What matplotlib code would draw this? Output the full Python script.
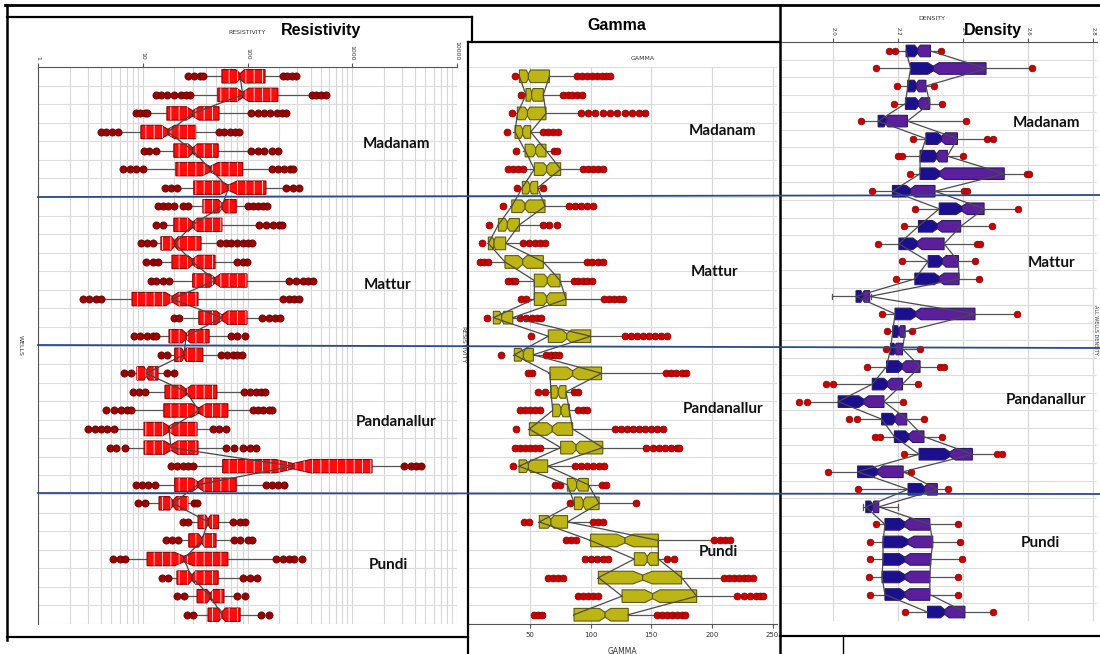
import numpy as np
import matplotlib
matplotlib.use('Agg')
import matplotlib.pyplot as plt
from matplotlib.patches import Polygon
from matplotlib.lines import Line2D

W, H = 1100, 654

# ---------------- data ----------------
wells = ['Madanam', 'Mattur', 'Pandanallur', 'Pundi']

# Resistivity, 30 rows, top to bottom
res_wl = [40, 29.5, 11.2, 6.1, 14, 10.5, 21.7, 28.5, 16.7, 13, 14.5, 18.2, 4.1, 24.7, 14,
          17.4, 7.9, 11, 7.9, 5.4, 7.0, 31, 13, 11, 28, 22.5, 7.1, 18, 26, 31]
res_q1 = [57, 52, 17, 9.6, 19.8, 20.7, 30.7, 37.5, 19.8, 14.9, 19, 30, 7.9, 34.3, 17.8,
          20.2, 8.8, 16.3, 15.9, 10.3, 10.3, 58, 20.2, 14.3, 33.7, 27.5, 11, 21.2, 33, 42]
res_med = [85, 90, 30, 17.4, 30, 44, 66, 57, 30, 20.2, 30, 49, 19, 57, 26,
           24.7, 10.8, 26, 34.3, 17.8, 18.6, 272, 33.7, 19.4, 42, 36.5, 24.7, 29.5, 44, 57]
res_q3 = [147, 195, 53.5, 32, 52.5, 90, 150, 78, 57, 36, 49, 99, 33.7, 99, 43,
          37.5, 14, 51, 65, 33, 33.7, 1545, 78, 27, 53, 50, 65, 52.5, 59.5, 85]
res_wh = [207, 395, 106, 52, 106, 168, 228, 99, 125, 53, 78, 243, 213, 135, 68,
          54.6, 16.7, 90, 110, 45.7, 62, 3080, 147, 30, 72, 72, 183, 88, 78, 132]
res_lo = [[27, 31, 35, 38], [13.4, 15, 17, 20, 23, 26, 28], [8.6, 9.5, 10.5, 11],
          [4.0, 4.5, 5.1, 5.8], [10.3, 11.5, 13.5], [6.5, 7.5, 8.7, 10], [16.3, 18.5, 21],
          [14, 15.5, 17.5, 20, 24, 27], [13.4, 15.5], [9.6, 11, 12.5], [10.8, 12.5, 14],
          [12, 13.5, 15.5, 18], [2.7, 3.1, 3.6, 4.0], [19.8, 22], [8.3, 9.5, 11, 12.5, 13.5],
          [15, 17], [6.6, 7.8], [8.1, 9.3, 10.5], [4.5, 5.3, 6.2, 7.0, 7.8],
          [3.0, 3.5, 4.0, 4.6, 5.3], [4.9, 5.6, 6.8], [18.6, 21, 24, 27, 30],
          [8.6, 9.8, 11.2, 13], [9, 10.5], [24, 27], [16.7, 19, 21.7], [5.2, 6, 6.8],
          [15.3, 17.4], [21.2, 25], [26.5, 30]]
res_hi = [[218, 240, 265, 290], [410, 450, 500, 560], [107, 125, 145, 165, 190, 215, 233],
          [53, 60, 68, 76, 83], [108, 125, 145, 170, 195], [172, 195, 225, 255, 270],
          [235, 270, 310], [100, 112, 125, 140, 155], [128, 150, 175, 200, 215],
          [55, 62, 70, 80, 90, 100, 110], [80, 90, 99], [250, 290, 340, 380, 420],
          [218, 250, 280, 310], [138, 160, 185, 205], [70, 80, 95], [56, 64, 72, 80, 88],
          [17, 20], [92, 105, 120, 135, 147], [112, 125, 140, 160, 172], [47, 54, 62],
          [63, 75, 90, 105, 120], [3150, 3600, 4100, 4500], [150, 170, 195, 222], [31, 33],
          [73, 85, 95], [74, 85, 100, 110], [188, 220, 250, 280, 330], [90, 105, 122],
          [80, 95], [135, 160]]

# Gamma, 30 rows
gam_wl = [40.4, 46, 38.5, 36.3, 44, 44.5, 42.6, 33.6, 22.6, 14.3, 16.5, 39, 48.7, 19.3, 63.8,
          35.8, 65.1, 66, 67.9, 48.7, 59.7, 39.9, 80.3, 85.8, 56.9, 99, 135.2, 105.5, 125, 85.8]
gam_q1 = [41.3, 46.7, 39.6, 37.7, 46, 53.6, 43.7, 35, 24, 15.7, 29.4, 53.6, 53.6, 19.8, 65.1,
          37.1, 66.5, 67.3, 68.7, 49.5, 75.3, 41, 80.8, 86.6, 57.7, 100, 136, 106.4, 125.9, 86.3]
gam_med = [48.7, 51.4, 47.9, 44, 54.7, 63.8, 50, 46, 31.4, 20.4, 44, 64.3, 63.8, 26.7, 80.3,
           44.6, 85.2, 73.4, 75.6, 68.4, 88, 48.7, 88.5, 94, 67.3, 128.3, 146.7, 142.9, 151, 111.9]
gam_q3 = [66, 61, 63.2, 50.6, 63.2, 75.3, 56.4, 62.4, 41.3, 30, 61, 74.8, 79.7, 35.8, 100,
          52.8, 109, 79.7, 82.5, 85.2, 110, 64.6, 98.1, 107, 81, 155.8, 155.8, 175, 187.4, 131]
gam_wh = [88.5, 76, 91.3, 59.7, 68.7, 92.6, 58.8, 80.8, 60.5, 43.2, 96.7, 85.2, 110, 41.8, 127,
          62.4, 161.3, 84.4, 89, 118.7, 145.6, 86.3, 107, 136.6, 101.7, 201, 161.3, 209.4, 220.4, 154.4]
gam_lo = [[37.7], [42.4], [35], [30.8], [38.2], [32, 36, 40, 44], [39], [27.5], [16.5], [10.2],
          [9, 12.5, 15.5], [32, 35, 38], [43, 47], [14.9], [50.9], [25.9], [48, 52], [57, 62],
          [42, 46, 50, 54, 58], [38.5], [38, 42, 46, 50, 54, 58], [36.3], [71, 75], [83],
          [45, 49], [80, 84, 88], [95, 100, 105, 110, 114], [65, 69, 73, 77],
          [90, 94, 98, 102, 106], [53, 57, 60]]
gam_hi = [[89, 93, 97, 101, 105, 109, 113, 116], [77, 81, 85, 89, 93],
          [92, 98, 104, 110, 116, 122, 128, 134, 140, 145], [61, 65, 69, 73], [70, 72],
          [94, 98, 102, 106, 110], [61], [82, 87, 92, 97, 102], [61, 66, 72],
          [44, 49, 54, 58, 62], [97, 101, 106, 110], [86, 90, 94, 97, 101],
          [111, 115, 119, 123, 127], [42, 47, 52, 56, 59],
          [128, 133, 138, 143, 148, 153, 158, 163], [63, 67, 71, 74], [162, 166, 170, 175, 179],
          [86, 90], [90, 94, 97], [120, 125, 130, 135, 140, 145, 150, 155, 160],
          [146, 151, 156, 161, 166, 171, 173], [87, 92, 97, 102, 107, 111], [109, 113], [137],
          [102, 106, 110], [202, 207, 211, 215], [163, 169], [210, 214, 218, 222, 226, 230, 234],
          [221, 226, 231, 236, 240, 242], [155, 159, 163, 167, 171, 175, 178]]

# Density, 33 rows
den_wl = [2.195, 2.135, 2.2, 2.19, 2.09, 2.25, 2.215, 2.24, 2.125, 2.256, 2.222, 2.143, 2.217,
          2.197, 1.995, 2.156, 2.168, 2.166, 2.11, 2.005, 1.923, 2.08, 2.15, 2.222, 1.99, 2.08,
          2.09, 2.136, 2.118, 2.118, 2.116, 2.118, 2.225]
den_q1 = [2.224, 2.238, 2.229, 2.222, 2.138, 2.285, 2.267, 2.267, 2.182, 2.326, 2.262, 2.202,
          2.292, 2.251, 2.07, 2.19, 2.183, 2.176, 2.164, 2.12, 2.015, 2.149, 2.188, 2.264, 2.075,
          2.23, 2.1, 2.159, 2.153, 2.153, 2.15, 2.159, 2.29]
den_med = [2.259, 2.308, 2.256, 2.262, 2.162, 2.333, 2.318, 2.328, 2.238, 2.395, 2.32, 2.259,
           2.336, 2.326, 2.09, 2.254, 2.202, 2.19, 2.212, 2.167, 2.094, 2.19, 2.233, 2.359, 2.137,
           2.28, 2.12, 2.22, 2.23, 2.22, 2.22, 2.22, 2.343]
den_q3 = [2.299, 2.47, 2.285, 2.297, 2.228, 2.382, 2.351, 2.526, 2.313, 2.464, 2.392, 2.341,
          2.385, 2.387, 2.112, 2.436, 2.221, 2.213, 2.267, 2.213, 2.156, 2.226, 2.279, 2.428,
          2.215, 2.32, 2.14, 2.297, 2.306, 2.3, 2.297, 2.297, 2.405]
den_wh = [2.328, 2.607, 2.308, 2.331, 2.405, 2.47, 2.395, 2.593, 2.4, 2.566, 2.484, 2.441, 2.433,
          2.446, 2.115, 2.562, 2.241, 2.265, 2.326, 2.258, 2.21, 2.275, 2.331, 2.503, 2.237, 2.35,
          2.2, 2.38, 2.385, 2.39, 2.38, 2.38, 2.485]
den_lo = [[2.17, 2.19], [2.13], [2.195], [2.187], [2.085], [2.244], [2.2, 2.21], [2.236], [2.12],
          [2.251], [2.217], [2.138], [2.212], [2.192], [], [2.151], [2.164], [2.162], [2.105],
          [1.977, 2.0], [1.894, 1.918], [2.048, 2.074], [2.128, 2.144], [2.217], [1.983],
          [2.075], [], [2.131], [2.113], [2.113], [2.11], [2.113], [2.22]]
den_hi = [[2.332], [2.61], [2.311], [2.335], [2.407], [2.472, 2.49], [2.398], [2.595, 2.603],
          [2.402, 2.41], [2.569], [2.487], [2.443, 2.45], [2.436], [2.449], [], [2.564], [2.243],
          [2.267], [2.328, 2.34], [2.262], [2.213], [2.279], [2.334], [2.505, 2.518], [2.24],
          [2.352], [], [2.384], [2.39], [2.395], [2.385], [2.385], [2.49]]

res_ticks = [1, 10, 100, 1000, 10000]
gam_ticks = [50, 100, 150, 200, 250]
den_ticks = [2.0, 2.2, 2.4, 2.6, 2.8]


def px(x, y):
    return x / W, 1 - y / H


def draw_boxes(ax, wl, q1, med, q3, wh, lo, hi, c_lo, c_hi, edge, oc, oe, h,
               log=False, link='med', hatch=False, ms=5):
    f = (lambda v: np.log10(v)) if log else (lambda v: v)
    g = (lambda v: 10 ** v) if log else (lambda v: v)
    n = len(q1)
    rows = np.arange(n)
    hh = h / 2
    hn = hh * 0.4
    for i in range(n):
        a, m, b = f(q1[i]), f(med[i]), f(q3[i])
        nw = 0.25 * min(m - a, b - m)
        left = [(a, i - hh), (m - nw, i - hh), (m, i - hn), (m, i + hn), (m - nw, i + hh), (a, i + hh)]
        right = [(m, i - hn), (m + nw, i - hh), (b, i - hh), (b, i + hh), (m + nw, i + hh), (m, i + hn)]
        for pts, col in ((left, c_lo), (right, c_hi)):
            xy = [(g(x), y) for x, y in pts]
            ax.add_patch(Polygon(xy, closed=True, fc=col, ec=edge, lw=0.8, zorder=3))
            if hatch:
                ax.add_patch(Polygon(xy, closed=True, fill=False, ec='#ffc8c8', lw=0,
                                     hatch='||', zorder=3.5))
        ax.plot([wl[i], q1[i]], [i, i], color='#555555', lw=0.9, zorder=2)
        ax.plot([q3[i], wh[i]], [i, i], color='#555555', lw=0.9, zorder=2)
        if not lo[i]:
            ax.plot([wl[i], wl[i]], [i - hh * 0.5, i + hh * 0.5], color='#555555', lw=0.9, zorder=2)
        if not hi[i]:
            ax.plot([wh[i], wh[i]], [i - hh * 0.5, i + hh * 0.5], color='#555555', lw=0.9, zorder=2)
        for pts in (lo[i], hi[i]):
            if pts:
                ax.plot(pts, [i] * len(pts), 'o', ms=ms, mfc=oc, mec=oe, mew=0.5, zorder=4)
    if link == 'med':
        ax.plot(med, rows, color='#444444', lw=0.9, zorder=5)
    else:
        ax.plot(q1, rows, color='#4a4a4a', lw=0.9, zorder=5)
        ax.plot(q3, rows, color='#4a4a4a', lw=0.9, zorder=5)


def style_axes(ax, n):
    ax.set_ylim(n - 0.5, -0.5)
    ax.set_yticks([])
    ax.set_yticks(np.arange(-0.5, n, 1), minor=True)
    ax.tick_params(axis='y', which='minor', length=0)
    ax.grid(axis='y', which='minor', color='#dcdcdc', lw=0.8)
    ax.set_axisbelow(True)
    for s in ax.spines.values():
        s.set_visible(False)


plt.rcParams['hatch.linewidth'] = 0.7
fig = plt.figure(figsize=(W / 100, H / 100), dpi=100)
fig.patch.set_facecolor('white')

# ---------------- Resistivity ----------------
ax_r = fig.add_axes([38 / W, 1 - 624 / H, 419 / W, 557 / H])
ax_r.set_xscale('log')
ax_r.set_xlim(1, 10000)
style_axes(ax_r, len(res_q1))
ax_r.grid(axis='x', which='both', color='#d6d6d6', lw=0.8)
ax_r.spines['left'].set_visible(True)
ax_r.spines['top'].set_visible(True)
ax_r.spines['left'].set_color('#555555')
ax_r.spines['top'].set_color('#555555')
ax_r.xaxis.tick_top()
ax_r.set_xticks(res_ticks)
ax_r.set_xticklabels([str(t) for t in res_ticks], rotation=270, fontsize=4.5, color='#333333')
ax_r.tick_params(axis='x', which='major', length=3, pad=2, color='#555555')
ax_r.tick_params(axis='x', which='minor', length=0)
draw_boxes(ax_r, res_wl, res_q1, res_med, res_q3, res_wh, res_lo, res_hi,
           '#ff0d0d', '#ff0d0d', '#8b0000', '#9a0000', '#600000', 0.72,
           log=True, link='med', hatch=True, ms=5.2)

# ---------------- Gamma ----------------
ax_g = fig.add_axes([468 / W, 1 - 624 / H, 309 / W, 557 / H])
ax_g.set_xlim(-1.07, 253.6)
style_axes(ax_g, len(gam_q1))
ax_g.grid(axis='x', which='major', color='#d6d6d6', lw=0.8)
ax_g.spines['bottom'].set_visible(True)
ax_g.spines['bottom'].set_color('#555555')
ax_g.set_xticks(gam_ticks)
ax_g.set_xticklabels([str(t) for t in gam_ticks], fontsize=5, color='#333333')
ax_g.tick_params(axis='x', length=3, pad=3, color='#555555')
ax_g.set_xlabel('GAMMA', fontsize=5.5, color='#333333', labelpad=6)
draw_boxes(ax_g, gam_wl, gam_q1, gam_med, gam_q3, gam_wh, gam_lo, gam_hi,
           '#bdb514', '#bdb514', '#5e5a0a', '#c80000', '#8a0000', 0.68,
           log=False, link='q', ms=5)

# ---------------- Density ----------------
ax_d = fig.add_axes([780 / W, 1 - 620.8 / H, 317 / W, 578.6 / H])
ax_d.set_xlim(1.836, 2.8115)
style_axes(ax_d, len(den_q1))
ax_d.grid(axis='x', which='major', color='#d6d6d6', lw=0.8)
ax_d.spines['top'].set_visible(True)
ax_d.spines['top'].set_color('#555555')
ax_d.xaxis.tick_top()
ax_d.set_xticks(den_ticks)
ax_d.set_xticklabels([f'{t:.1f}' for t in den_ticks], rotation=270, fontsize=4, color='#333333')
ax_d.tick_params(axis='x', length=3, pad=2, color='#555555')
draw_boxes(ax_d, den_wl, den_q1, den_med, den_q3, den_wh, den_lo, den_hi,
           '#1c0f8f', '#5b1f9b', '#2a1a6a', '#c80000', '#8a0000', 0.66,
           log=False, link='q', ms=4.8)

# ---------------- panel frames ----------------
def fline(x0, y0, x1, y1, lw=1.6, color='black', z=10):
    fig.add_artist(Line2D([x0 / W, x1 / W], [1 - y0 / H, 1 - y1 / H],
                          color=color, lw=lw, zorder=z))

fline(5, 5, 1100, 5, lw=2)
fline(7, 5, 7, 640, lw=1.8)
fline(7, 17, 472, 17)
fline(472, 17, 472, 42)
fline(7, 637, 468, 637)
fline(468, 42, 780, 42)
fline(468, 42, 468, 654)
fline(780, 5, 780, 654, lw=1.8)
fline(780, 636, 1100, 636)
fline(843, 636, 843, 654, lw=1)

# blue well separators
fline(38, 197, 1100, 195, lw=1.3, color='#2b4a8b', z=12)
fline(38, 345, 1100, 348, lw=1.3, color='#2b4a8b', z=12)
fline(38, 493, 1100, 494, lw=1.3, color='#2b4a8b', z=12)

# ---------------- texts ----------------
tfont = dict(family='Liberation Sans', weight='bold', fontsize=11.5, color='black',
             ha='center', va='center')
fig.text(*px(321, 30), 'Resistivity', **tfont)
fig.text(*px(617, 25), 'Gamma', **tfont)
fig.text(*px(993, 30), 'Density', **tfont)

small = dict(fontsize=4.5, color='#333333', ha='center', va='center')
fig.text(*px(247, 32), 'RESISTIVITY', **small)
fig.text(*px(643, 58), 'GAMMA', **small)
fig.text(*px(932, 18), 'DENSITY', **small)
fig.text(*px(20, 345), 'WELLS', rotation=270, **small)
fig.text(*px(463, 345), 'RESISTIVITY', rotation=270, **small)
fig.text(*px(1095, 330), 'ALL WELLS DENSITY', rotation=270, fontsize=3.5, color='#333333',
         ha='center', va='center')

wfont = dict(family='Lato', weight='bold', fontsize=11, color='#111111', ha='center', va='center')
well_pos = {
    'res': [(396, 144), (388, 285), (396, 422), (388, 565)],
    'gam': [(723, 131), (715, 272), (723, 409), (718, 552)],
    'den': [(1047, 123), (1052, 263), (1046, 400), (1040, 543)],
}
for key in well_pos:
    for name, (x, y) in zip(wells, well_pos[key]):
        t = fig.text(*px(x, y), name, **wfont)
        t.set_zorder(20)

fig.savefig('out.png', dpi=100)
